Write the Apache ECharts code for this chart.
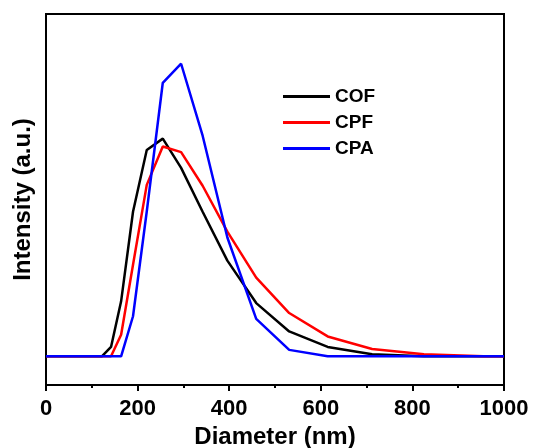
<!DOCTYPE html>
<html>
<head>
<meta charset="utf-8">
<script src="https://cdn.jsdelivr.net/npm/echarts@6/dist/echarts.min.js"></script>
<style>html,body{margin:0;padding:0;background:#fff}#c{width:536px;height:448px}</style>
</head>
<body>
<div id="c"></div>
<script>
var diameters = [0, 122, 142, 164, 190, 220, 255, 295, 342, 396, 459, 531, 615, 712, 825, 955, 1000];
var cof = [0, 0, 3.2, 18.8, 49.4, 70.5, 74.4, 64.4, 49.4, 32.7, 18.2, 8.5, 3.2, 0.7, 0, 0, 0];
var cpf = [0, 0, 0, 7.4, 31.3, 58.6, 71.7, 69.8, 58.3, 42.6, 26.9, 14.8, 6.8, 2.5, 0.7, 0, 0];
var cpa = [0, 0, 0, 0, 13.7, 49.5, 93.5, 100, 75.4, 40.6, 12.8, 2.2, 0, 0, 0, 0, 0];
var seriesNames = ['COF', 'CPF', 'CPA'];
var xTicks = [0, 200, 400, 600, 800, 1000];

function pairs(v) { return diameters.map(function (d, i) { return [d, v[i]]; }); }
var font = '"Liberation Sans", Arial, sans-serif';
var chart = echarts.init(document.getElementById('c'));
var colors = ['#000000', '#ff0000', '#0000ff'];
var vals = [cof, cpf, cpa];
chart.setOption({
  animation: false,
  grid: { left: 46, right: 32, top: 14, bottom: 63, show: true, borderColor: '#000', borderWidth: 2,
          containLabel: false, outerBoundsMode: 'none' },
  legend: {
    orient: 'vertical', left: 283, top: 87, padding: 0, itemWidth: 47, itemHeight: 3, itemGap: 7,
    icon: 'rect',
    textStyle: { fontFamily: font, fontWeight: 'bold', fontSize: 19, color: '#000', lineHeight: 19 },
    data: seriesNames
  },
  xAxis: {
    type: 'value', min: 0, max: 1000, interval: 200,
    name: 'Diameter (nm)', nameLocation: 'middle', nameGap: 35,
    nameTextStyle: { fontFamily: font, fontWeight: 'bold', fontSize: 24, color: '#000' },
    axisLine: { onZero: false, lineStyle: { color: '#000', width: 2 } },
    axisTick: { show: true, length: 6, lineStyle: { color: '#000', width: 2 } },
    minorTick: { show: true, splitNumber: 2, length: 3, lineStyle: { color: '#000', width: 2 } },
    splitLine: { show: false },
    axisLabel: {
      margin: 13, fontFamily: font, fontWeight: 'bold', fontSize: 22, color: '#000',
      formatter: function (v) { return xTicks.indexOf(v) >= 0 ? String(v) : ''; }
    }
  },
  yAxis: {
    type: 'value', min: -9.8, max: 117,
    name: 'Intensity (a.u.)', nameLocation: 'middle', nameGap: 11,
    nameTextStyle: { fontFamily: font, fontWeight: 'bold', fontSize: 24, color: '#000' },
    axisLine: { show: true, onZero: false, lineStyle: { color: '#000', width: 2 } },
    axisTick: { show: false }, axisLabel: { show: false }, splitLine: { show: false }
  },
  series: seriesNames.map(function (n, i) {
    return {
      name: n, type: 'line', data: pairs(vals[i]), showSymbol: false, symbol: 'none',
      color: colors[i], lineStyle: { color: colors[i], width: 2.5 }
    };
  })
});
</script>
</body>
</html>
